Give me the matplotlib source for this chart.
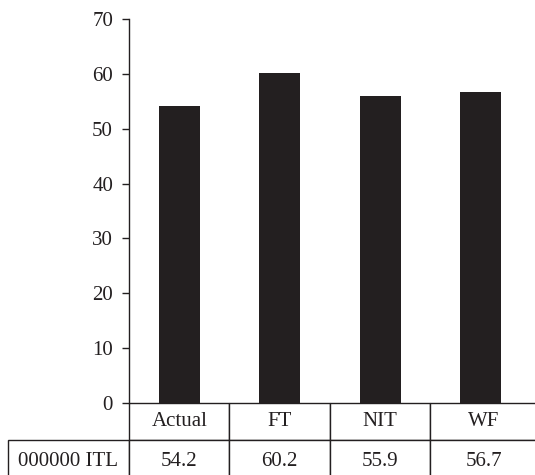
import matplotlib
matplotlib.use("Agg")
import matplotlib.pyplot as plt
from matplotlib.table import Table

categories = ["Actual", "FT", "NIT", "WF"]
values = [54.2, 60.2, 55.9, 56.7]
value_labels = ["54.2", "60.2", "55.9", "56.7"]
row_label = "000000 ITL"
yticks = [0, 10, 20, 30, 40, 50, 60, 70]

ink = "#231f20"
plt.rcParams["font.family"] = ["Liberation Serif", "DejaVu Serif"]
plt.rcParams["text.color"] = ink

fig = plt.figure(figsize=(5.35, 4.75), dpi=100)
ax = fig.add_axes([0.2411, 0.1516, 0.7514, 0.8084])

x = range(len(categories))
ax.bar(x, values, width=0.41, color=ink)
ax.set_xlim(-0.5, len(categories) - 0.5)
ax.set_ylim(0, 70)
ax.set_yticks(yticks)
ax.set_xticks([])
ax.tick_params(axis="y", length=5, width=1.0, color=ink, labelcolor=ink,
               labelsize=15, pad=6.5)

for s in ["top", "right", "bottom"]:
    ax.spines[s].set_visible(False)
ax.spines["left"].set_color(ink)
ax.spines["left"].set_linewidth(1.0)

# table below the bars (built cell by cell so the row label column keeps its width)
row_w = 0.301
hdr_h = 0.0964
dat_h = 0.11
col_w = [0.25, 0.25, 0.25, 0.265]
tbl = Table(ax, bbox=[0, -(hdr_h + dat_h), sum(col_w), hdr_h + dat_h])
for j, name in enumerate(categories):
    tbl.add_cell(0, j, width=col_w[j], height=hdr_h, text=name, loc="center")
    tbl.add_cell(1, j, width=col_w[j], height=dat_h, text=value_labels[j], loc="center")
tbl.add_cell(1, -1, width=row_w, height=dat_h, text=row_label, loc="center")
tbl.auto_set_font_size(False)
tbl.set_fontsize(15)
for cell in tbl.get_celld().values():
    cell.set_edgecolor(ink)
    cell.set_linewidth(1.0)
    cell.get_text().set_color(ink)
ax.add_table(tbl)

fig.savefig("out.png", dpi=100)
